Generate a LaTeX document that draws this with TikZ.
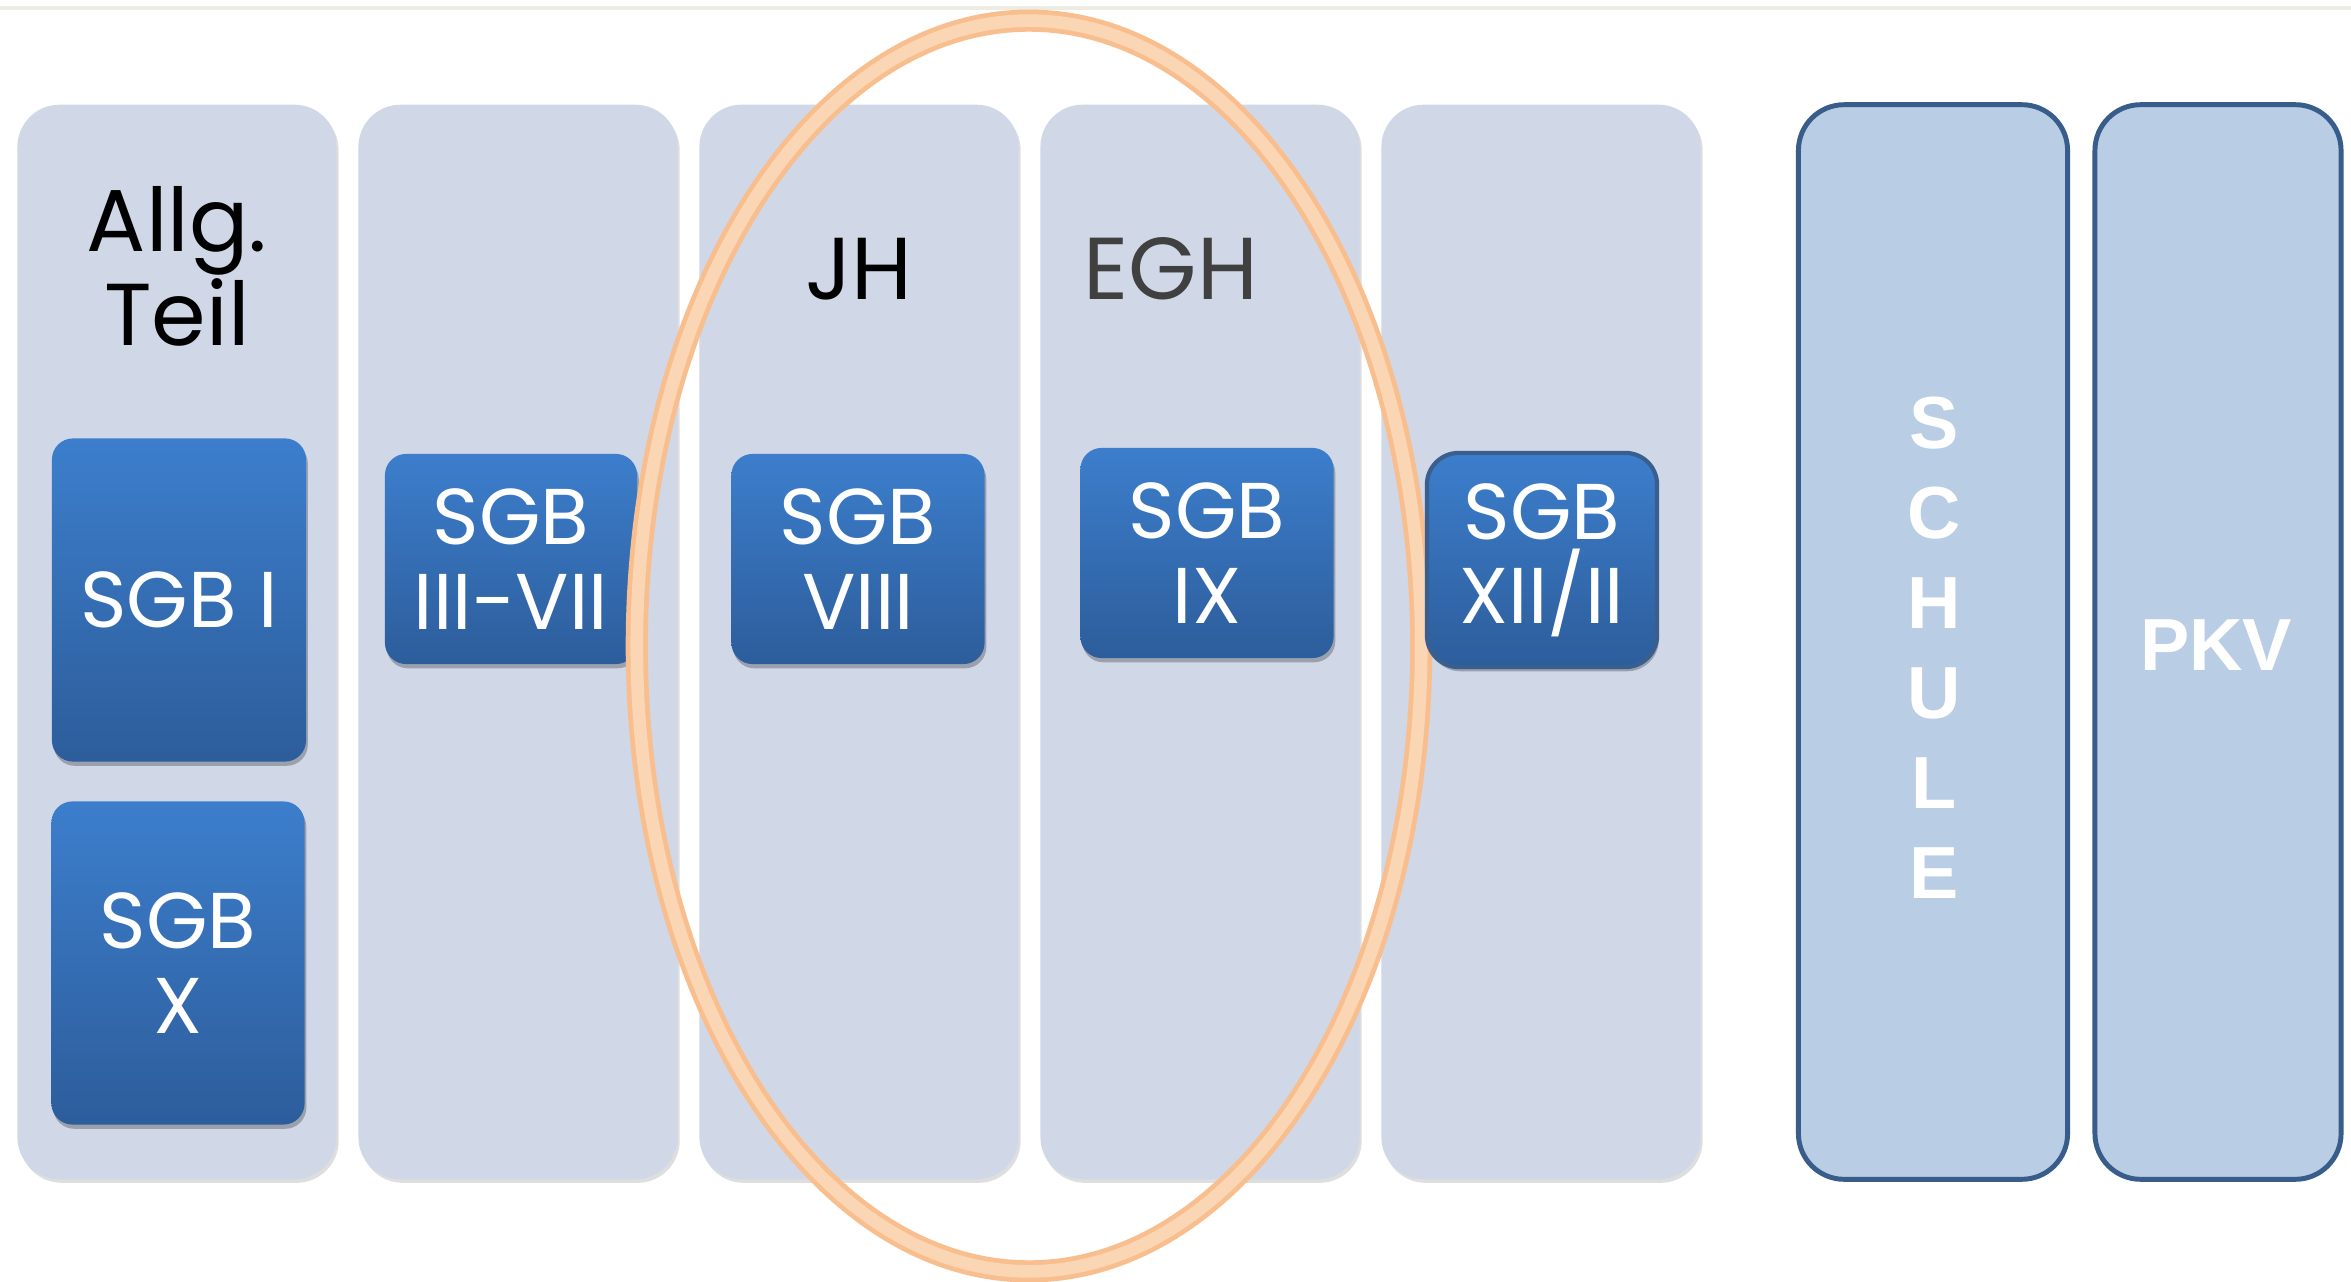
\documentclass[tikz,border=0pt]{standalone}
\usepackage{fontspec}
\newfontfamily\gothic{Poppins}
\newfontfamily\arialfam{Liberation Sans}
\usetikzlibrary{shadows,shapes.geometric}
\definecolor{colfill}{RGB}{208,215,230}
\definecolor{boxtop}{RGB}{60,126,204}
\definecolor{boxbot}{RGB}{45,93,155}
\definecolor{boxedge}{RGB}{58,95,143}
\definecolor{panelfill}{RGB}{185,205,229}
\definecolor{paneledge}{RGB}{56,93,138}
\definecolor{ringdark}{RGB}{249,190,142}
\definecolor{ringlight}{RGB}{251,214,181}
\definecolor{topline}{RGB}{237,236,226}
\definecolor{egh}{RGB}{64,64,64}
\tikzset{
  colbox/.style={fill=colfill, rounded corners=12pt, minimum width=3.19cm, minimum height=10.74cm, inner sep=0pt,
    drop shadow={shadow xshift=0.6pt, shadow yshift=-1.0pt, opacity=0.13, fill=black}},
  sgbbox/.style={rounded corners=6pt, top color=boxtop, bottom color=boxbot, text=white, inner sep=0pt,
    font=\gothic\fontsize{22.5}{24}\selectfont, align=center,
    drop shadow={shadow xshift=0.5pt, shadow yshift=-1.2pt, opacity=0.25, fill=black}},
  coltitle/.style={font=\gothic\fontsize{25}{25.5}\selectfont, align=center, inner sep=0pt},
  panel/.style={fill=panelfill, draw=paneledge, line width=1.4pt, rounded corners=13pt, minimum height=10.74cm, inner sep=0pt},
  paneltext/.style={text=white, font=\arialfam\bfseries\fontsize{21}{25.6}\selectfont, align=center, inner sep=0pt}
}
\begin{document}
\begin{tikzpicture}[x=0.01cm, y=-0.01cm]
\useasboundingbox (0,0) rectangle (2351,1282);
\fill[white] (0,0) rectangle (2351,1282);
\draw[topline, line width=1.4pt] (0,8) coordinate (tl1) -- (2351,8) coordinate (tl2);
% columns
\node[colbox] (c1) at (177,642) {};
\node[colbox] (c2) at (518,642) {};
\node[colbox] (c3) at (859,642) {};
\node[colbox] (c4) at (1200,642) {};
\node[colbox] (c5) at (1541,642) {};
% titles
\node[coltitle] (allg) at (177,266) {Allg.\\Teil};
\node[coltitle, anchor=base] (jh) at (859,300) {JH};
\node[coltitle, anchor=base, text=egh] (egh) at (1171,300) {EGH};
% boxes
\node[sgbbox, minimum width=2.54cm, minimum height=3.23cm] (sgb1) at (179,600) {SGB I};
\node[sgbbox, minimum width=2.53cm, minimum height=3.23cm] (sgb10) at (178,963) {SGB\\X};
\node[sgbbox, minimum width=2.52cm, minimum height=2.10cm] (sgb37) at (511,559) {SGB\\III-VII};
\node[sgbbox, minimum width=2.53cm, minimum height=2.10cm] (sgb8) at (858,559) {SGB\\VIII};
\node[sgbbox, minimum width=2.53cm, minimum height=2.10cm] (sgb9) at (1207,553) {SGB\\IX};
% ring
\node[ellipse, draw=ringdark, line width=6.3pt, minimum width=7.84cm, minimum height=12.50cm, inner sep=0pt] (ringo) at (1029,646) {};
\node[ellipse, draw=ringlight, line width=3.6pt, minimum width=7.84cm, minimum height=12.50cm, inner sep=0pt] (ringi) at (1029,646) {};
% XII/II box above ring
\node[sgbbox, draw=boxedge, line width=1.2pt, rounded corners=9pt, minimum width=2.30cm, minimum height=2.14cm] (sgb12) at (1542,560) {SGB\\XII/II};
% right panels
\node[panel, minimum width=2.69cm] (schule) at (1933,642) {};
\node[paneltext] (schuletext) at (1934,648) {S\\C\\H\\U\\L\\E};
\node[panel, minimum width=2.46cm] (pkv) at (2218,642) {};
\node[paneltext] (pkvtext) at (2216,645) {PKV};
\end{tikzpicture}
\end{document}
